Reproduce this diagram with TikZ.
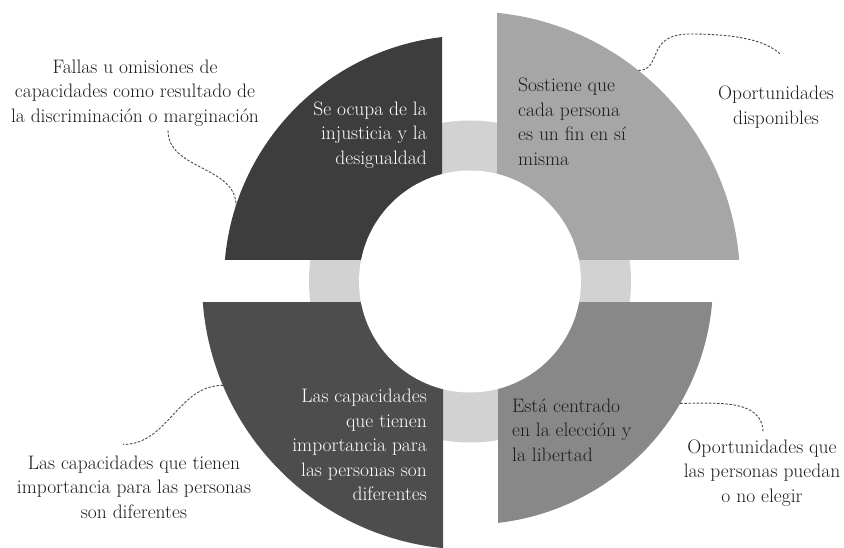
\documentclass[tikz,border=0pt]{standalone}
\usepackage[RGB]{xcolor}
\usepackage{tikz}
\definecolor{TL}{RGB}{61,61,61}
\definecolor{TR}{RGB}{166,166,166}
\definecolor{BL}{RGB}{77,77,77}
\definecolor{BR}{RGB}{136,136,136}
\definecolor{ring}{RGB}{210,210,210}
\definecolor{ink}{RGB}{28,28,28}
\newcommand{\drawquarter}[4]{
    \begin{scope}
    \clip #2 rectangle #3;
    \fill[#1] (C) circle (#4);
    \end{scope}
}
\tikzset{
  txt/.style={inner sep=0pt, font=\rmfamily\fontsize{19.5}{24.5}\selectfont},
  intxt/.style={txt, text=#1},
  outtxt/.style={txt, text=ink, align=center},
  link/.style={draw=ink!80, line width=0.9pt, dash pattern=on 2.5pt off 1.6pt}
}

\begin{document}
\begin{tikzpicture}[x=1pt,y=1pt]
\useasboundingbox (0,0) rectangle (844,548);
\coordinate (C) at (470,266.5);
\fill[ring] (C) circle (161);
\drawquarter{TL}{(442,288)}{(0,548)}{246}
\drawquarter{TR}{(497,288)}{(844,548)}{270}
\drawquarter{BL}{(443,245)}{(0,0)}{268}
\drawquarter{BR}{(498,245)}{(844,0)}{243}
\fill[white] (C) circle (111);
\node[intxt=white, anchor=east, align=right] (ocupa) at (427,413) {Se ocupa de la\\injusticia y la\\desigualdad};
\node[intxt=ink, anchor=west, align=left] (sostiene) at (518,426) {Sostiene que\\cada persona\\es un fin en sí\\misma};
\node[intxt=white, anchor=east, align=right] (capac) at (427,103) {Las capacidades\\que tienen\\importancia para\\las personas son\\diferentes};
\node[intxt=ink, anchor=west, align=left] (centrado) at (512,118) {Está centrado\\en la elección y\\la libertad};
\node[outtxt] (fallas) at (135,455) {Fallas u omisiones de\\capacidades como resultado de\\la discriminación o marginación};
\node[outtxt] (disp) at (776,441) {Oportunidades\\disponibles};
\node[outtxt] (dif) at (134,61) {Las capacidades que tienen\\importancia para las personas\\son diferentes};
\node[outtxt] (elegir) at (762,75) {Oportunidades que\\las personas puedan\\o no elegir};
\coordinate (ocupaEdge) at ([shift={(162:246)}]C);
\coordinate (sostEdge) at ([shift={(51.4:270)}]C);
\coordinate (capacEdge) at ([shift={(202.8:268)}]C);
\coordinate (centrEdge) at ([shift={(-30.1:243)}]C);
\draw[link] ([xshift=33pt,yshift=-4pt]fallas.south) to[out=-90,in=90] (ocupaEdge);
\draw[link] (sostEdge) .. controls (663,478) and (645,514) .. (690,514) .. controls (735,514) and (765,508) .. ([xshift=4pt,yshift=32pt]disp.north);
\draw[link] (capacEdge) to[out=180,in=0] ([xshift=-11pt,yshift=11pt]dif.north);
\draw[link] (centrEdge) to[out=0,in=90] ([xshift=1pt,yshift=7pt]elegir.north);
\end{tikzpicture}
\end{document}
